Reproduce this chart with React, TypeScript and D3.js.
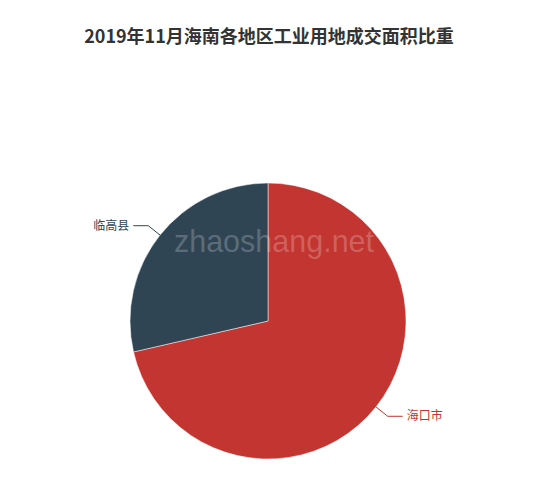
import React, {useEffect, useRef} from 'react';
import * as d3 from 'd3';

const regions = ['海口市', '临高县'];
const shares = [71.4, 28.6];
const colors = ['#c23531', '#2f4554'];
const title = '2019年11月海南各地区工业用地成交面积比重';

const W = 550;
const H = 490;

const App = () => {
  const ref = useRef<SVGSVGElement>(null);

  useEffect(() => {
    const svg = d3.select(ref.current);
    svg.selectAll('*').remove();

    const cx = 268;
    const cy = 321;
    const r = 138;
    const font = '"Noto Sans CJK SC", "Microsoft YaHei", sans-serif';

    svg.append('rect').attr('width', W).attr('height', H).attr('fill', '#fff');

    svg.append('text')
      .attr('x', 269)
      .attr('y', 43)
      .attr('text-anchor', 'middle')
      .attr('font-family', font)
      .attr('font-size', 18)
      .attr('font-weight', 'bold')
      .attr('fill', '#333')
      .text(title);

    const pie = d3.pie<number>().sort(null).value(d => d);
    const arcs = pie(shares);
    const arc = d3.arc<d3.PieArcDatum<number>>().innerRadius(0).outerRadius(r);

    const g = svg.append('g').attr('transform', `translate(${cx},${cy})`);

    g.selectAll('path')
      .data(arcs)
      .enter().append('path')
      .attr('d', arc)
      .attr('fill', (d, i) => colors[i])
      .attr('stroke', '#fff')
      .attr('stroke-width', 0.5);

    // label lines: radial segment then horizontal segment
    const len1 = 15;
    const len2 = 15;
    arcs.forEach((d, i) => {
      const mid = (d.startAngle + d.endAngle) / 2;
      const sx = Math.sin(mid), sy = -Math.cos(mid);
      const p0 = [sx * r, sy * r];
      const p1 = [sx * (r + len1), sy * (r + len1)];
      const dir = sx >= 0 ? 1 : -1;
      const p2 = [p1[0] + dir * len2, p1[1]];
      g.append('polyline')
        .attr('points', [p0, p1, p2].map(p => p.join(',')).join(' '))
        .attr('fill', 'none')
        .attr('stroke', colors[i])
        .attr('stroke-width', 1);
      g.append('text')
        .attr('x', p2[0] + dir * 4)
        .attr('y', p2[1])
        .attr('dy', '0.35em')
        .attr('text-anchor', dir > 0 ? 'start' : 'end')
        .attr('font-family', font)
        .attr('font-size', 12)
        .attr('fill', colors[i])
        .text(regions[i]);
    });

    // watermark
    svg.append('text')
      .attr('x', 274)
      .attr('y', 252)
      .attr('text-anchor', 'middle')
      .attr('font-family', '"Liberation Sans", Arial, sans-serif')
      .attr('font-size', 30.5)
      .attr('fill', '#fff')
      .attr('fill-opacity', 0.22)
      .text('zhaoshang.net');
  }, []);

  return (
    <svg ref={ref} width={W} height={H}
         style={{position: 'absolute', left: 0, top: 0}}></svg>
  );
};

export default App;
